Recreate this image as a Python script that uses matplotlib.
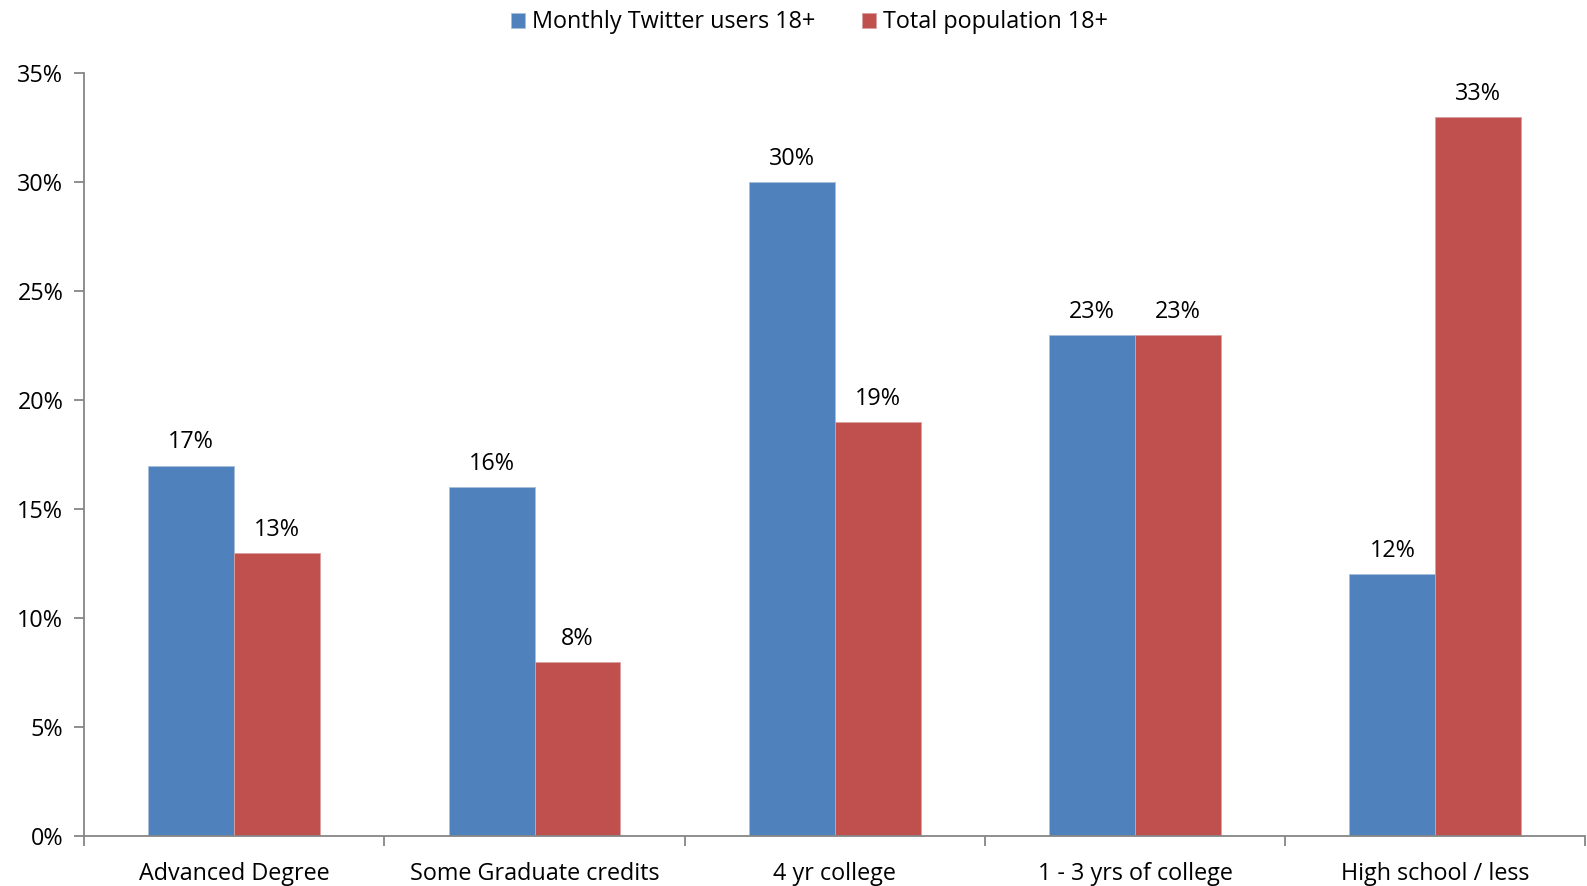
import matplotlib.pyplot as plt
import numpy as np
from matplotlib.ticker import FixedLocator, MultipleLocator, PercentFormatter

plt.rcParams['font.family'] = ['Open Sans', 'DejaVu Sans']

categories = ['Advanced Degree', 'Some Graduate credits', '4 yr college',
              '1 - 3 yrs of college', 'High school / less']
twitter_users = [17, 16, 30, 23, 12]
total_population = [13, 8, 19, 23, 33]
series_names = ['Monthly Twitter users 18+', 'Total population 18+']

blue = '#4F81BD'
red = '#C0504D'
axis_grey = '#868686'
fs = 16.8

fig = plt.figure(figsize=(15.87, 8.86), dpi=100)
ax = fig.add_axes([0.053, 0.0564, 0.946, 0.861])

x = np.arange(len(categories))
w = 0.286
b1 = ax.bar(x - w / 2, twitter_users, w, color=blue, edgecolor='#a9bfdc',
            linewidth=0.6, label=series_names[0])
b2 = ax.bar(x + w / 2, total_population, w, color=red, edgecolor='#d9a09e',
            linewidth=0.6, label=series_names[1])

for bars in (b1, b2):
    for rect in bars:
        h = rect.get_height()
        ax.annotate(f'{h:.0f}%', (rect.get_x() + rect.get_width() / 2, h),
                    xytext=(0, 8), textcoords='offset points',
                    ha='center', va='bottom', fontsize=fs)

ax.set_xlim(-0.5, len(categories) - 0.5)
ax.set_ylim(0, 35)
ax.yaxis.set_major_locator(MultipleLocator(5))
ax.yaxis.set_major_formatter(PercentFormatter(decimals=0))

# category labels centred, ticks at the boundaries
ax.set_xticks(x)
ax.set_xticklabels(categories, fontsize=fs)
ax.tick_params(axis='x', which='major', length=0, pad=19)
ax.xaxis.set_minor_locator(FixedLocator(np.arange(-0.5, len(categories), 1.0)))
ax.tick_params(axis='x', which='minor', length=7, color=axis_grey, width=1.3)
ax.tick_params(axis='y', length=7, color=axis_grey, width=1.3, labelsize=fs, pad=8)

for s in ('top', 'right'):
    ax.spines[s].set_visible(False)
for s in ('left', 'bottom'):
    ax.spines[s].set_color(axis_grey)
    ax.spines[s].set_linewidth(1.3)

fig.legend(handles=[b1, b2], loc='upper center', bbox_to_anchor=(0.51, 1.012),
           ncol=2, frameon=False, fontsize=fs, handlelength=0.6, handleheight=0.6,
           handletextpad=0.3, columnspacing=2.0)

fig.savefig('out.png', dpi=100)
